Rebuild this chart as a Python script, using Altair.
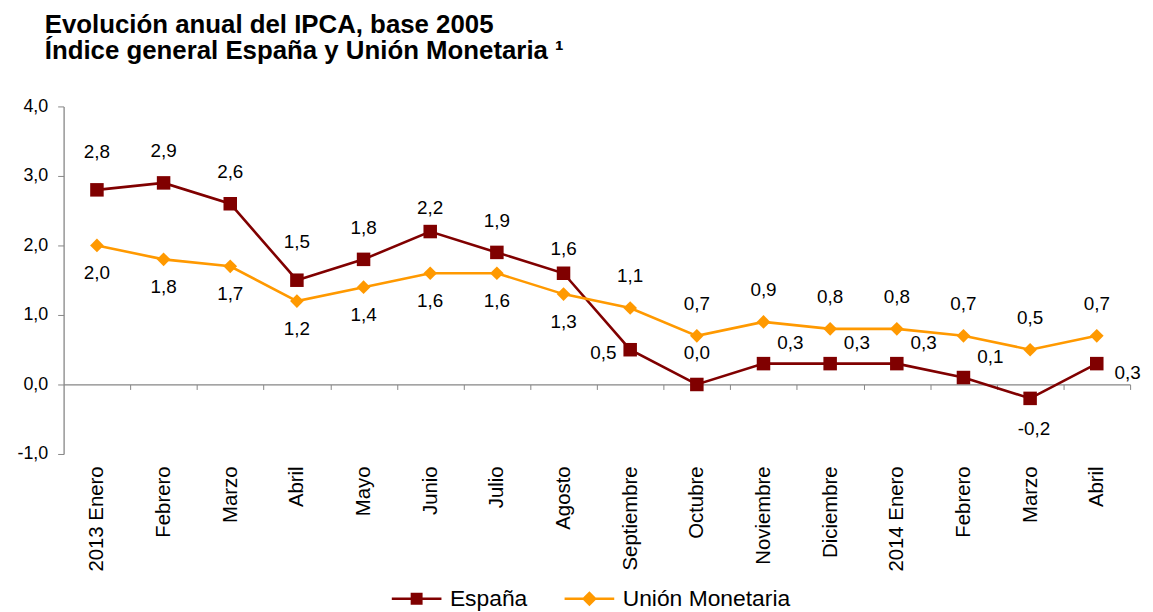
import json
import altair as alt
import pandas as pd

# ---------------- data ----------------
months = ["2013 Enero", "Febrero", "Marzo", "Abril", "Mayo", "Junio", "Julio", "Agosto",
          "Septiembre", "Octubre", "Noviembre", "Diciembre", "2014 Enero", "Febrero",
          "Marzo", "Abril"]
espana = [2.8, 2.9, 2.6, 1.5, 1.8, 2.2, 1.9, 1.6, 0.5, 0.0, 0.3, 0.3, 0.3, 0.1, -0.2, 0.3]
union = [2.0, 1.8, 1.7, 1.2, 1.4, 1.6, 1.6, 1.3, 1.1, 0.7, 0.9, 0.8, 0.8, 0.7, 0.5, 0.7]
series = ["España", "Unión Monetaria"]
y_ticks = [-1, 0, 1, 2, 3, 4]
title_lines = ["Evolución anual del IPCA, base 2005",
               "Índice general España y Unión Monetaria \u00b9"]

# label placement codes (where each value label sits around its point)
espana_label_pos = ["above_far", "above", "above", "above_far", "above", "above_near", "above",
                    "above_near", "left", "above", "right_up", "right_up", "right_up",
                    "right_up", "below_far", "right"]
union_label_pos = ["below"] * 8 + ["above"] * 8

# ---------------- styles ----------------
FONT = "Liberation Sans"
COLORS = ["#800000", "#FF9900"]
AXIS_GREY = "#868686"
W, H = 1074, 350
Y_MIN, Y_MAX = -1, 4
band = W / len(months)
zero_offset = -H * (0 - Y_MIN) / (Y_MAX - Y_MIN)

placement = {
    "above": (0, -32),
    "above_far": (0, -38),
    "above_near": (0, -24),
    "below": (0, 28),
    "below_far": (4, 31),
    "left": (-27, 3),
    "right": (31, 9),
    "right_up": (27, -21),
}

legend_paths = [
    "M-2.5,-0.12L2.5,-0.12L2.5,0.12L-2.5,0.12Z M-0.6,-0.6L0.6,-0.6L0.6,0.6L-0.6,0.6Z",
    "M-2.5,-0.12L2.5,-0.12L2.5,0.12L-2.5,0.12Z M0,-0.75L0.75,0L0,0.75L-0.75,0Z",
]


def fmt(v):
    s = f"{abs(v):.1f}".replace(".", ",")
    return ("-" + s) if v < 0 else s


rows = []
for name, vals, pos in [(series[0], espana, espana_label_pos), (series[1], union, union_label_pos)]:
    for i, v in enumerate(vals):
        rows.append({"idx": i, "month": months[i], "series": name, "value": v,
                     "label": fmt(v), "pos": pos[i]})
df = pd.DataFrame(rows)

month_arr = json.dumps(months, ensure_ascii=False)

x_enc = alt.X(
    "idx:Q",
    scale=alt.Scale(domain=[-0.5, len(months) - 0.5], nice=False, zero=False),
    axis=alt.Axis(
        title=None, values=list(range(len(months))),
        labelExpr=f"{month_arr}[datum.value]",
        labelAngle=270, labelFontSize=20.5, labelFont=FONT, labelColor="black",
        offset=zero_offset, tickOffset=band / 2, labelOffset=-band / 2,
        tickSize=5, tickColor=AXIS_GREY, domainColor=AXIS_GREY, domainWidth=1.3,
        labelPadding=77, grid=False, labelBound=False, labelOverlap=False,
    ),
)
y_enc = alt.Y(
    "value:Q",
    scale=alt.Scale(domain=[Y_MIN, Y_MAX], nice=False, zero=False),
    axis=alt.Axis(
        title=None, values=y_ticks,
        labelExpr="(datum.value < 0 ? '-' : '') + replace(format(abs(datum.value), '.1f'), '.', ',')",
        labelFontSize=18, labelFont=FONT, labelColor="black", tickSize=6,
        tickColor=AXIS_GREY, domainColor=AXIS_GREY, domainWidth=1.3, labelPadding=10,
        grid=False,
    ),
)
cscale = alt.Scale(domain=series, range=COLORS)

base = alt.Chart(df).encode(x=x_enc, y=y_enc)

leg = alt.Legend(
    title=None, orient="none", legendX=329, legendY=484, direction="horizontal",
    labelFontSize=23, labelFont=FONT, labelColor="black", symbolOffset=15,
    labelOffset=22, columnPadding=35, symbolStrokeWidth=0, symbolOpacity=1,
    symbolSize=400, padding=0, labelLimit=0,
)
legend_layer = base.mark_point(filled=True, size=400, opacity=0).encode(
    color=alt.Color("series:N", scale=cscale, legend=leg),
    shape=alt.Shape("series:N", scale=alt.Scale(domain=series, range=legend_paths), legend=leg),
)

layers = [legend_layer]
for name, color in zip(series, COLORS):
    sub = base.transform_filter(alt.datum.series == name)
    layers.append(sub.mark_line(strokeWidth=2.6, color=color))
for name, color, shape, size in [(series[0], COLORS[0], "square", 185),
                                 (series[1], COLORS[1], "diamond", 190)]:
    sub = base.transform_filter(alt.datum.series == name)
    layers.append(sub.mark_point(shape=shape, filled=True, size=size, opacity=1, color=color))

for code, (dx, dy) in placement.items():
    layers.append(
        base.transform_filter(alt.datum.pos == code).mark_text(
            dx=dx, dy=dy, fontSize=19, font=FONT, color="black").encode(text="label:N")
    )

chart = alt.layer(*layers).properties(
    width=W, height=H,
    title=alt.TitleParams(
        title_lines, anchor="start", frame="group", dx=-19, fontSize=26,
        fontWeight="bold", font=FONT, color="black", offset=34, lineHeight=26,
    ),
    autosize=alt.AutoSizeParams(type="none"),
    padding={"left": 56, "top": 97, "right": 15, "bottom": 157},
).configure_view(stroke=None)

chart.save("out.html", embed_options={"renderer": "svg", "actions": False})
